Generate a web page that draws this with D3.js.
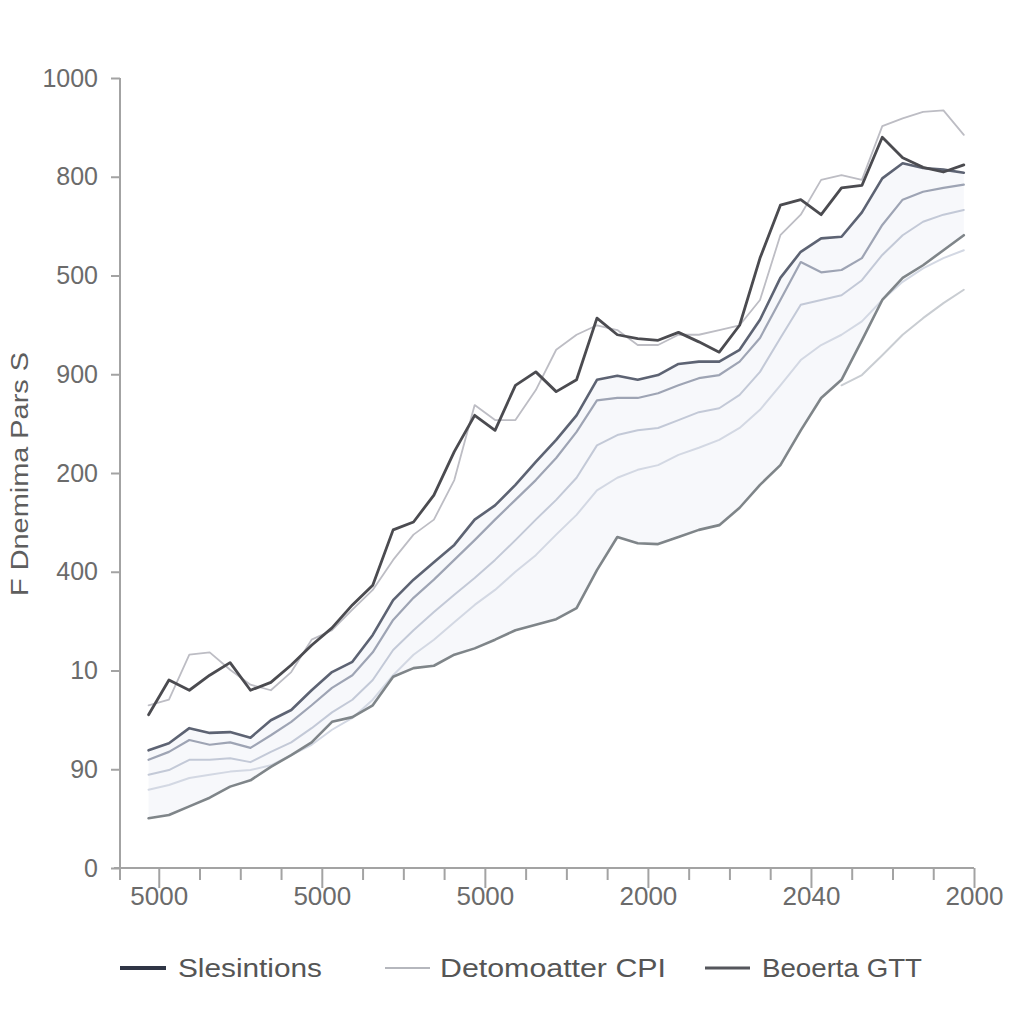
<!DOCTYPE html>
<html><head><meta charset="utf-8">
<script src="https://cdn.jsdelivr.net/npm/d3@7"></script>
<style>
html,body{margin:0;padding:0;background:#fff;}
svg{display:block;}
text{font-family:"Liberation Sans",Arial,sans-serif;}
</style></head>
<body>
<svg id="c" width="1024" height="1024"></svg>
<script>
// ---- data ----
const xPos = [-0.25,0.25,0.75,1.25,1.75,2.25,2.75,3.25,3.75,4.25,4.75,5.25,5.75,6.25,6.75,7.25,7.75,8.25,8.75,9.25,9.75,10.25,10.75,11.25,11.75,12.25,12.75,13.25,13.75,14.25,14.75,15.25,15.75,16.25,16.75,17.25,17.75,18.25,18.75,19.25,19.75];
const beoertaGTT = [194,238,225,244,260,225,235,257,282,304,333,358,428,438,472,527,573,554,611,628,603,618,696,675,670,668,678,666,653,687,772,839,846,827,861,864,925,899,887,881,890];
const slesintions = [149,158,177,171,172,165,187,200,225,248,261,295,339,365,387,409,441,459,485,514,542,573,618,623,618,624,638,641,641,656,694,747,780,797,799,830,873,892,886,884,880];
const detomoatterCPI = [206,213,270,273,251,232,225,248,289,301,327,352,390,422,441,491,586,567,567,605,656,675,687,681,662,662,675,675,681,687,719,801,827,871,877,871,939,949,957,959,928];
const bandA = [137,147,162,156,159,152,168,185,206,228,244,273,314,342,365,390,415,441,466,491,519,552,592,595,595,601,611,620,624,641,671,719,767,754,757,772,814,846,856,861,865];
const bandB = [118,124,137,137,139,134,147,159,177,197,213,238,276,301,324,346,367,390,415,441,466,494,535,548,554,557,567,577,582,599,628,671,713,719,725,744,776,801,818,827,833];
const bandC = [99,105,114,118,122,124,130,143,156,175,190,213,244,270,289,311,333,352,375,396,422,447,478,494,504,510,523,532,542,557,580,611,643,662,675,692,719,742,759,772,782];
const lowerLine = [63,67,78,89,103,111,128,143,159,185,191,206,242,253,256,270,278,289,301,308,315,329,377,419,411,410,419,428,434,456,485,510,554,595,618,668,719,747,763,782,801];
const faintLine = [null,null,null,null,null,null,null,null,null,null,null,null,null,null,null,null,null,null,null,null,null,null,null,null,null,null,null,null,null,null,null,null,null,null,611,624,649,675,696,715,732];

const yTickValues = [0,125,250,375,500,625,750,875,1000];
const yTickLabels = ["0","90","10","400","200","900","500","800","1000"];
const xMajorTicks = [0,4,8,12,16,20];
const xTickLabels = ["5000","5000","5000","2000","2040","2000"];
const xMinorTicks = [1,2,3,5,6,7,9,10,11,13,14,15,17,18,19];
const yTitle = "F Dnemima Pars S";
const legendNames = ["Slesintions","Detomoatter CPI","Beoerta GTT"];

// ---- drawing ----
const svg = d3.select("#c");
const x = d3.scaleLinear().domain([-1,20]).range([118,974]);
const y = d3.scaleLinear().domain([0,1000]).range([868,78]);
const axisColor = "#a3a3a3";
const labelColor = "#6b6b6b";

// light band fill
const area = d3.area().x((d,i)=>x(xPos[i])).y0((d,i)=>y(lowerLine[i])).y1((d,i)=>y(slesintions[i]));
svg.append("path").datum(slesintions).attr("d",area).attr("fill","#f1f3f9").attr("opacity",0.6);

// y axis
const yAxis = d3.axisLeft(y).tickValues(yTickValues).tickSize(9).tickPadding(13)
  .tickFormat((d,i)=>yTickLabels[i]);
const gy = svg.append("g").attr("transform","translate(120,0)").call(yAxis);
gy.select(".domain").attr("stroke",axisColor).attr("stroke-width",2).attr("d","M0,78V880");
gy.selectAll(".tick line").attr("stroke",axisColor).attr("stroke-width",2);
gy.selectAll(".tick text").attr("fill",labelColor).style("font-size","25px").style("font-family","Liberation Sans, Arial, sans-serif");

// x axis
const gx = svg.append("g").attr("transform","translate(0,868)");
gx.append("line").attr("x1",114).attr("x2",974).attr("y1",0).attr("y2",0).attr("stroke",axisColor).attr("stroke-width",2);
const xAxisMinor = d3.axisBottom(x).tickValues(xMinorTicks).tickSize(12).tickFormat("");
const gxm = gx.append("g").call(xAxisMinor);
gxm.select(".domain").remove();
gxm.selectAll(".tick line").attr("stroke",axisColor).attr("stroke-width",2);
const xAxisMajor = d3.axisBottom(x).tickValues(xMajorTicks).tickSize(20).tickPadding(12)
  .tickFormat((d,i)=>xTickLabels[i]);
const gxM = gx.append("g").call(xAxisMajor);
gxM.select(".domain").remove();
gxM.selectAll(".tick line").attr("stroke",axisColor).attr("stroke-width",2);
gxM.selectAll(".tick text").attr("fill",labelColor).style("font-size","26px").style("font-family","Liberation Sans, Arial, sans-serif")
  .attr("dy","0.2em");

// y title
svg.append("text").attr("transform","translate(28,474) rotate(-90)").attr("text-anchor","middle")
  .attr("fill","#5e5e5e").style("font-size","23px").attr("textLength",244).attr("lengthAdjust","spacingAndGlyphs").text(yTitle);

// lines
const line = d3.line().defined(d=>d!=null).x((d,i)=>x(xPos[i])).y(d=>y(d)).curve(d3.curveLinear);
function draw(data,color,w,op){
  svg.append("path").datum(data).attr("d",line).attr("fill","none").attr("stroke",color)
    .attr("stroke-width",w).attr("stroke-linejoin","round").attr("stroke-linecap","round").attr("opacity",op||1);
}
draw(bandC,"#d3d8e3",2);
draw(bandB,"#c3c9d7",2);
draw(faintLine,"#c9cdd2",2);
draw(bandA,"#9ea4b4",2.2);
draw(lowerLine,"#7f8589",2.6);
draw(detomoatterCPI,"#bdbdc4",1.8);
draw(slesintions,"#5d6373",2.6);
draw(beoertaGTT,"#4b4b50",2.8);

// legend
const legend = svg.append("g");
const lg = [
  {x1:120,x2:166,tx:178,color:"#2f3545",w:4,tl:144},
  {x1:385,x2:430,tx:440,color:"#b5b7bd",w:2,tl:226},
  {x1:705,x2:750,tx:762,color:"#55565c",w:3,tl:160}
];
lg.forEach((d,i)=>{
  legend.append("line").attr("x1",d.x1).attr("x2",d.x2).attr("y1",968).attr("y2",968).attr("stroke",d.color).attr("stroke-width",d.w);
  legend.append("text").attr("x",d.tx).attr("y",977).attr("fill","#555").style("font-size","25px")
    .attr("textLength",d.tl).attr("lengthAdjust","spacingAndGlyphs").text(legendNames[i]);
});
</script>
</body></html>
